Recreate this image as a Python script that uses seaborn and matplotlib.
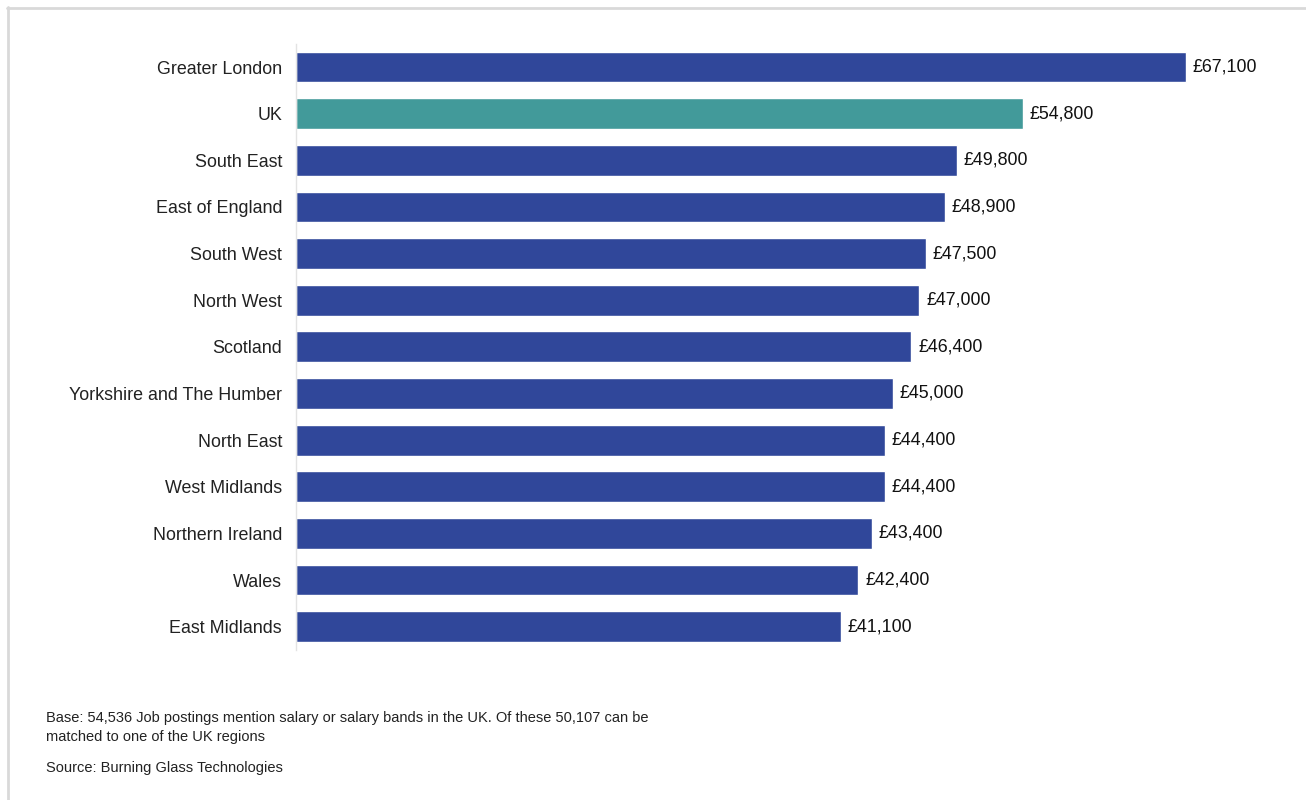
import matplotlib
matplotlib.use("Agg")
import matplotlib.pyplot as plt
from matplotlib.lines import Line2D
import pandas as pd
import seaborn as sns

regions = ["Greater London", "UK", "South East", "East of England", "South West",
           "North West", "Scotland", "Yorkshire and The Humber", "North East",
           "West Midlands", "Northern Ireland", "Wales", "East Midlands"]
salaries = [67100, 54800, 49800, 48900, 47500, 47000, 46400, 45000, 44400,
            44400, 43400, 42400, 41100]
groups = ["region", "uk"] + ["region"] * 11

BLUE = "#30479A"
TEAL = "#429A9A"

sns.set_theme(style="white")
plt.rcParams["font.family"] = ["Liberation Sans", "DejaVu Sans"]

df = pd.DataFrame({"region": regions, "salary": salaries, "group": groups})

fig = plt.figure(figsize=(13.06, 8), dpi=100)
ax = fig.add_axes([296 / 1306, 1 - 650 / 800, 994.8 / 1306, (650 - 43.7) / 800])

sns.barplot(data=df, x="salary", y="region", hue="group", dodge=False,
            palette={"region": BLUE, "uk": TEAL}, width=0.66, legend=False,
            ax=ax, saturation=1)

# value labels at the bar ends
for i, val in enumerate(salaries):
    ax.text(val + 500, i, f"£{val:,}", va="center", ha="left", fontsize=12.9,
            color="#111111")

ax.set_xlim(0, 75000)
ax.set_ylim(12.5, -0.5)
ax.set_xlabel("")
ax.set_ylabel("")
ax.set_xticks([])
ax.tick_params(axis="y", length=0, pad=10, labelsize=12.9, labelcolor="#222222")
for s in ["top", "right", "bottom"]:
    ax.spines[s].set_visible(False)
ax.spines["left"].set_color("#e3e3e3")
ax.spines["left"].set_linewidth(1)

fig.text(46 / 1306, 1 - 718 / 800,
         "Base: 54,536 Job postings mention salary or salary bands in the UK. Of these 50,107 can be",
         fontsize=10.5, va="center", ha="left", color="#222222")
fig.text(46 / 1306, 1 - 737 / 800, "matched to one of the UK regions",
         fontsize=10.5, va="center", ha="left", color="#222222")
fig.text(46 / 1306, 1 - 768 / 800, "Source: Burning Glass Technologies",
         fontsize=10.5, va="center", ha="left", color="#222222")

# thin frame, top and left edges only
fig.add_artist(Line2D([7 / 1306, 1], [1 - 7.5 / 800, 1 - 7.5 / 800],
                      transform=fig.transFigure, color="#d9d9d9", lw=2))
fig.add_artist(Line2D([7.5 / 1306, 7.5 / 1306], [0, 1 - 7 / 800],
                      transform=fig.transFigure, color="#d9d9d9", lw=2))

fig.savefig("out.png", dpi=100, facecolor="white")
